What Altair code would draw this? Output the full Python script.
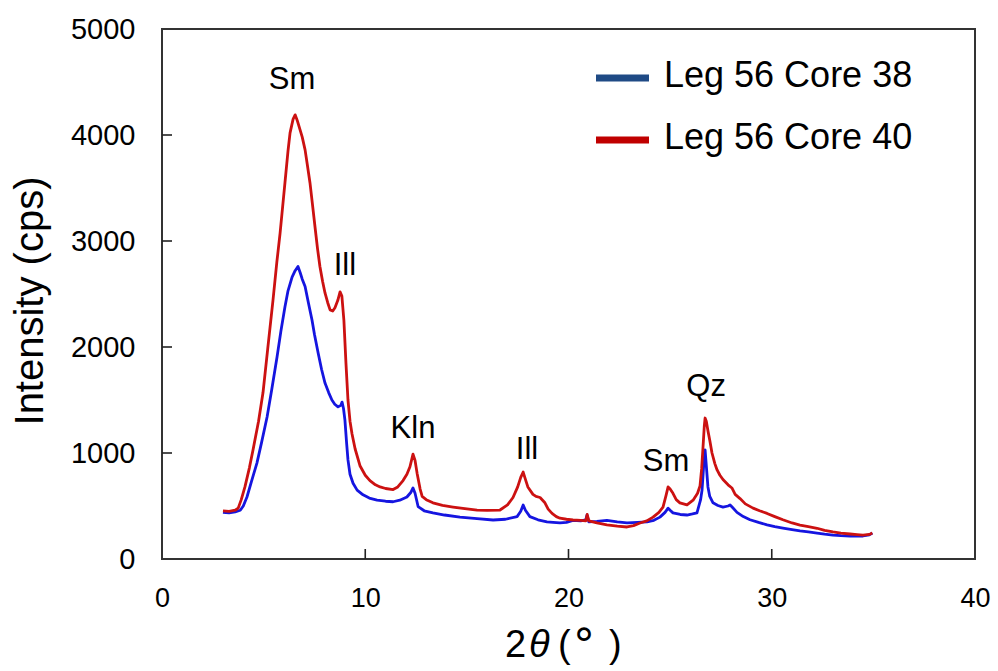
import altair as alt
import pandas as pd

# --- diffraction patterns: 2-theta (deg) and intensity (cps) ---
core38_x = [3.0, 3.3, 3.6, 3.85, 4.0, 4.18, 4.4, 4.67, 4.9, 5.17, 5.4, 5.66, 5.85, 6.05, 6.2, 6.40,
            6.55, 6.69, 6.8, 6.9, 7.04, 7.2, 7.38, 7.5, 7.68, 7.85, 8.02, 8.2, 8.36, 8.5, 8.66, 8.8,
            8.86, 8.93, 9.0, 9.08, 9.15, 9.25, 9.40, 9.6, 9.89, 10.2, 10.58, 11.0, 11.37, 11.7, 12.05,
            12.25, 12.35, 12.45, 12.6, 12.9, 13.33, 13.9, 14.66, 15.5, 16.29, 16.9, 17.47, 17.65,
            17.77, 17.88, 18.1, 18.5, 18.94, 19.24, 19.58, 19.9, 20.22, 20.6, 20.85, 20.91, 21.0,
            21.4, 21.89, 22.4, 22.88, 23.4, 23.86, 24.2, 24.5, 24.75, 24.9, 25.0, 25.14, 25.5, 25.83,
            26.1, 26.32, 26.5, 26.57, 26.65, 26.72, 26.78, 26.86, 26.95, 27.11, 27.35, 27.6, 27.85,
            27.95, 28.05, 28.29, 28.6, 28.93, 29.35, 29.77, 30.15, 30.55, 31.0, 31.39, 31.8, 32.23,
            32.6, 33.01, 33.4, 33.85, 34.2, 34.49, 34.8, 34.95]
core38_y = [440, 435, 445, 460, 500, 585, 730, 905, 1100, 1340, 1600, 1905, 2150, 2380, 2530, 2660,
            2720, 2760, 2700, 2640, 2570, 2420, 2255, 2120, 1945, 1790, 1660, 1570, 1500, 1460, 1435, 1450,
            1480, 1420, 1310, 1100, 935, 800, 715, 650, 605, 575, 555, 545, 540, 555, 585,
            630, 670, 620, 495, 455, 435, 415, 395, 380, 368, 375, 400, 450,
            510, 460, 400, 370, 350, 345, 340, 345, 365, 360, 370, 415, 350,
            355, 365, 350, 340, 345, 350, 365, 395, 440, 480, 460, 435, 420, 415,
            425, 435, 560, 650, 880, 1030, 880, 680, 590, 530, 505, 490, 500,
            510, 490, 440, 400, 370, 345, 322, 305, 292, 278, 265, 255, 245,
            235, 226, 220, 217, 215, 217, 228, 245]

core40_x = [3.0, 3.3, 3.6, 3.75, 3.9, 4.08, 4.3, 4.48, 4.75, 4.97, 5.2, 5.46, 5.65, 5.81, 6.05, 6.2,
            6.30, 6.45, 6.55, 6.65, 6.79, 6.9, 7.04, 7.15, 7.28, 7.4, 7.53, 7.65, 7.77, 7.9, 8.02,
            8.15, 8.27, 8.4, 8.51, 8.65, 8.76, 8.85, 8.95, 9.05, 9.15, 9.25, 9.35, 9.5, 9.74, 10.0,
            10.23, 10.5, 10.73, 11.0, 11.37, 11.6, 11.86, 12.05, 12.2, 12.35, 12.45, 12.55, 12.7,
            12.8, 13.0, 13.33, 13.8, 14.32, 14.9, 15.5, 16.0, 16.63, 17.0, 17.27, 17.5, 17.65, 17.77,
            17.9, 18.0, 18.25, 18.4, 18.6, 18.84, 19.0, 19.19, 19.4, 19.58, 19.9, 20.22, 20.6, 20.85,
            20.92, 21.0, 21.4, 21.89, 22.4, 22.88, 23.2, 23.52, 23.85, 24.16, 24.45, 24.65, 24.8,
            24.9, 25.0, 25.14, 25.3, 25.48, 25.83, 26.13, 26.35, 26.47, 26.55, 26.62, 26.68, 26.72,
            26.78, 26.86, 26.95, 27.06, 27.2, 27.31, 27.45, 27.6, 27.85, 28.04, 28.2, 28.44, 28.7,
            29.08, 29.4, 29.77, 30.15, 30.55, 31.0, 31.39, 31.8, 32.23, 32.6, 33.01, 33.4, 33.85,
            34.2, 34.49, 34.8, 34.95]
core40_y = [455, 450, 460, 480, 560, 680, 860, 1030, 1300, 1570, 1980, 2440, 2800, 3075, 3550, 3850,
            4020, 4150, 4190, 4140, 4050, 3980, 3860, 3720, 3550, 3350, 3130, 2930, 2760, 2620, 2510,
            2420, 2350, 2340, 2370, 2440, 2520, 2480, 2250, 1850, 1500, 1300, 1180, 1040, 880, 790,
            740, 700, 680, 665, 655, 680, 740, 800, 870, 990, 930, 810, 660,
            590, 560, 530, 505, 490, 475, 462, 458, 462, 510, 580, 680, 770, 820,
            740, 680, 610, 590, 580, 530, 470, 430, 400, 385, 375, 368, 365, 360,
            420, 360, 340, 322, 310, 302, 315, 340, 360, 395, 440, 490, 600,
            680, 660, 620, 560, 530, 510, 555, 620, 690, 850, 1060, 1250, 1330,
            1300, 1210, 1120, 1000, 900, 840, 790, 750, 700, 670, 610, 570, 520,
            480, 455, 430, 400, 370, 340, 320, 305, 290, 270, 255, 245, 236,
            230, 226, 232, 245]

series_names = ["Leg 56 Core 38", "Leg 56 Core 40"]
line_colors = ["#1515e0", "#cc1111"]
legend_colors = ["#1f4a85", "#c00000"]

# peak labels (phase names) placed in data coordinates
peak_labels = ["Sm", "Ill", "Kln", "Ill", "Sm", "Qz"]
peak_x = [6.40, 9.00, 12.35, 17.96, 24.80, 26.77]
peak_y = [4519, 2764, 1226, 1028, 915, 1623]

x_ticks = [0, 10, 20, 30, 40]
y_ticks = [0, 1000, 2000, 3000, 4000, 5000]
x_inner_ticks = [10, 20, 30]
y_inner_ticks = [1000, 2000, 3000, 4000]

FONT = "Liberation Sans, Arial, sans-serif"
W, H = 813, 530

df38 = pd.DataFrame({"tt": core38_x, "cps": core38_y, "sample": series_names[0]})
df40 = pd.DataFrame({"tt": core40_x, "cps": core40_y, "sample": series_names[1]})
peaks = pd.DataFrame({"label": peak_labels, "tt": peak_x, "cps": peak_y})

xs = alt.Scale(domain=[0, 40], nice=False, zero=False)
ys = alt.Scale(domain=[0, 5000], nice=False)

x_axis = alt.Axis(values=x_ticks, format="d", ticks=False, tickSize=0, domain=False, grid=False,
                  labelFont=FONT, labelFontSize=27, labelColor="#000", labelPadding=26,
                  labelFlush=False, labelOverlap=False, title=None)
y_axis = alt.Axis(values=y_ticks, format="d", ticks=False, tickSize=0, domain=False, grid=False,
                  labelFont=FONT, labelFontSize=29, labelColor="#000", labelPadding=27,
                  labelFlush=False, labelOverlap=False, title=None)

X = lambda f: alt.X(f, scale=xs, axis=x_axis)
Y = lambda f: alt.Y(f, scale=ys, axis=y_axis)


def pattern(df, color):
    return alt.Chart(df).mark_line(color=color, strokeWidth=2.8, strokeJoin="round").encode(
        x=X("tt:Q"), y=Y("cps:Q"))


blue = pattern(df38, line_colors[0])
red = pattern(df40, line_colors[1])

# inward tick marks
xt = alt.Chart(pd.DataFrame({"tt": x_inner_ticks})).mark_rule(color="#222", strokeWidth=1.6).encode(
    x=X("tt:Q"), y=alt.value(H), y2=alt.value(H - 10))
yt = alt.Chart(pd.DataFrame({"cps": y_inner_ticks})).mark_rule(color="#222", strokeWidth=1.6).encode(
    y=Y("cps:Q"), x=alt.value(0), x2=alt.value(10))

labels = alt.Chart(peaks).mark_text(font=FONT, fontSize=31, color="#000",
                                    align="center", baseline="middle").encode(
    x=X("tt:Q"), y=Y("cps:Q"), text="label:N")

# legend entries
legend_layers = []
for i, (name, col) in enumerate(zip(series_names, legend_colors)):
    ly = 49 + 62 * i
    swatch = alt.Chart(pd.DataFrame({"k": [name]})).mark_rule(color=col, strokeWidth=7).encode(
        x=alt.value(434), x2=alt.value(487), y=alt.value(ly))
    txt = alt.Chart(pd.DataFrame({"k": [name]})).mark_text(
        font=FONT, fontSize=36, color="#000", align="left", baseline="alphabetic").encode(
        x=alt.value(502), y=alt.value(ly + 9), text="k:N")
    legend_layers += [swatch, txt]

# axis titles: 2θ(°) built from pieces, rotated y title
title_df = pd.DataFrame({"two": ["2"], "theta": ["\u03b8"], "lp": ["("], "deg": ["\u00b0"],
                         "rp": [")"], "ytitle": ["Intensity (cps)"]})
base_t = alt.Chart(title_df)


def piece(field, xpos, ypos=628, size=38, style="normal", font=FONT):
    return base_t.mark_text(font=font, fontSize=size, fontStyle=style, align="left",
                            baseline="alphabetic", color="#000").encode(
        x=alt.value(xpos), y=alt.value(ypos), text=f"{field}:N")


t_two = piece("two", 343)
t_theta = piece("theta", 367, style="italic")
t_lp = piece("lp", 396)
t_deg = piece("deg", 411, ypos=631, size=44, font="DejaVu Sans")
t_rp = piece("rp", 447)
ytitle = base_t.mark_text(font=FONT, fontSize=40, angle=270, align="center",
                          baseline="alphabetic", color="#000").encode(
    x=alt.value(-119), y=alt.value(272), text="ytitle:N")

chart = alt.layer(blue, red, xt, yt, labels, *legend_layers,
                  t_two, t_theta, t_lp, t_deg, t_rp, ytitle).properties(
    width=W, height=H,
    autosize=alt.AutoSizeParams(type="none"),
    padding={"left": 162, "top": 29, "right": 23, "bottom": 112},
    background="white",
).configure_view(stroke="#333333", strokeWidth=2)

chart.save("out.html", embed_options={"renderer": "svg", "actions": False})
